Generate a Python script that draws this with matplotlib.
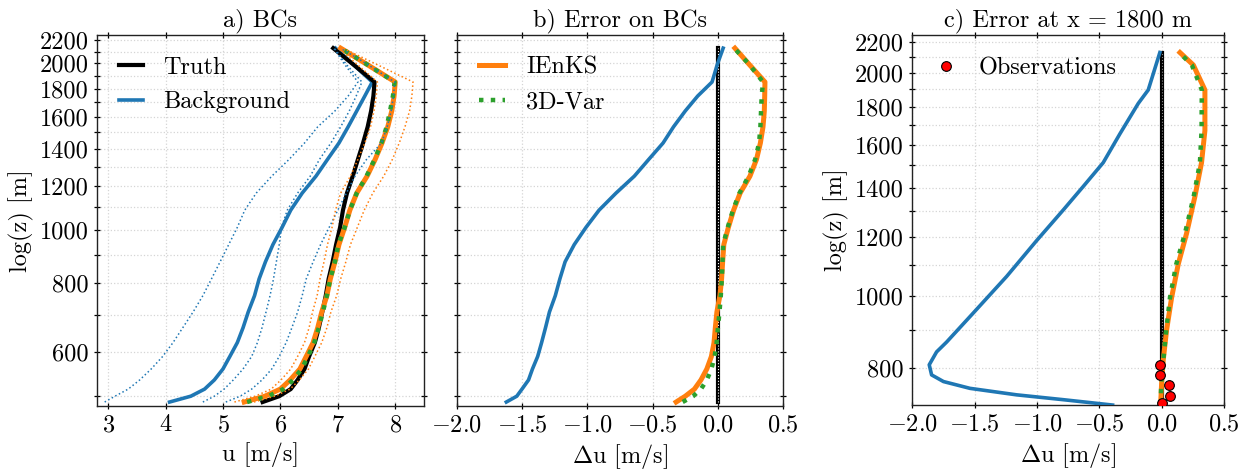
import matplotlib
matplotlib.use('Agg')
import matplotlib.pyplot as plt
from matplotlib.ticker import MultipleLocator, NullFormatter, FormatStrFormatter

# vertical levels for panels a) and b)
z = [488, 500, 515, 535, 560, 590, 625, 665, 710, 760, 815, 875, 940, 1010,
     1085, 1165, 1250, 1340, 1435, 1535, 1640, 1745, 1850, 1990, 2130]

# a) BCs: wind profiles u [m/s]
truth = [5.69, 5.98, 6.18, 6.30, 6.42, 6.50, 6.60, 6.67, 6.73, 6.79, 6.84, 6.91,
         6.97, 7.04, 7.09, 7.16, 7.26, 7.35, 7.44, 7.52, 7.58, 7.62, 7.64, 7.27, 6.92]
background = [4.07, 4.44, 4.68, 4.85, 5.00, 5.12, 5.25, 5.35, 5.44, 5.55, 5.63, 5.74,
              5.87, 6.03, 6.18, 6.38, 6.62, 6.82, 7.02, 7.18, 7.33, 7.47, 7.60, 7.27, 6.96]
ienks = [5.37, 5.73, 6.00, 6.17, 6.34, 6.45, 6.57, 6.65, 6.72, 6.81, 6.87, 6.95,
         7.02, 7.12, 7.21, 7.33, 7.51, 7.65, 7.77, 7.87, 7.94, 7.98, 8.00, 7.51, 7.05]
var3d = [5.42, 5.79, 6.05, 6.22, 6.37, 6.48, 6.59, 6.67, 6.74, 6.81, 6.87, 6.95,
         7.01, 7.12, 7.21, 7.33, 7.50, 7.64, 7.76, 7.85, 7.91, 7.96, 7.99, 7.51, 7.05]
# thin dotted spread lines
bg_spread1 = [2.94, 3.12, 3.35, 3.55, 3.75, 3.95, 4.13, 4.30, 4.48, 4.65, 4.80, 4.95,
              5.10, 5.25, 5.38, 5.58, 5.85, 6.15, 6.42, 6.65, 6.95, 7.18, 7.35, 7.12, 6.93]
bg_spread2 = [4.65, 4.85, 5.02, 5.18, 5.35, 5.50, 5.60, 5.68, 5.75, 5.82, 5.88, 5.93,
              5.98, 6.02, 6.12, 6.30, 6.52, 6.68, 6.88, 7.05, 7.20, 7.32, 7.42, 7.15, 6.94]
bg_spread3 = [5.05, 5.30, 5.50, 5.68, 5.85, 5.98, 6.10, 6.20, 6.30, 6.38, 6.45, 6.57,
              6.70, 6.85, 7.00, 7.15, 7.30, 7.50, 7.76, 7.86, 7.93, 7.97, 7.99, 7.52, 7.05]
an_spread_lo = [5.20, 5.56, 5.84, 6.01, 6.18, 6.30, 6.42, 6.50, 6.56, 6.64, 6.69, 6.76,
                6.82, 6.90, 6.96, 7.05, 7.22, 7.35, 7.47, 7.57, 7.63, 7.67, 7.69, 7.34, 7.01]
an_spread_hi = [5.54, 5.90, 6.17, 6.33, 6.49, 6.60, 6.72, 6.81, 6.88, 6.98, 7.05, 7.14,
                7.22, 7.34, 7.46, 7.61, 7.80, 7.95, 8.07, 8.17, 8.25, 8.29, 8.31, 7.68, 7.09]

# b) Error on BCs
err_zero = [0.0] * len(z)
err_bg = [-1.62, -1.54, -1.50, -1.45, -1.42, -1.38, -1.35, -1.32, -1.29, -1.245, -1.21, -1.17,
          -1.10, -1.01, -0.91, -0.78, -0.64, -0.53, -0.42, -0.34, -0.25, -0.155, -0.045, -0.005, 0.04]
err_ienks = [-0.32, -0.25, -0.18, -0.13, -0.085, -0.05, -0.03, -0.02, -0.008, 0.015, 0.028, 0.036,
             0.045, 0.08, 0.12, 0.17, 0.245, 0.295, 0.325, 0.345, 0.355, 0.358, 0.36, 0.24, 0.13]
err_3dvar = [-0.27, -0.19, -0.13, -0.085, -0.05, -0.025, -0.01, 0.0, 0.012, 0.022, 0.03, 0.035,
             0.04, 0.075, 0.115, 0.165, 0.235, 0.285, 0.315, 0.325, 0.33, 0.335, 0.345, 0.24, 0.125]

# c) Error at x = 1800 m
zc_bg = [712, 724, 735, 750, 766, 782, 807, 840, 866, 948, 1062, 1187, 1306, 1405,
         1513, 1655, 1819, 1897, 2131]
errc_bg = [-0.395, -0.79, -1.164, -1.538, -1.75, -1.845, -1.864, -1.805, -1.725, -1.511,
           -1.244, -1.004, -0.79, -0.63, -0.47, -0.336, -0.189, -0.109, -0.016]
zc_an = [712, 761, 819, 899, 994, 1103, 1214, 1362, 1513, 1672, 1897, 2050, 2131]
errc_ienks = [-0.01, -0.002, 0.011, 0.038, 0.078, 0.131, 0.198, 0.265, 0.318, 0.345, 0.345, 0.252, 0.145]
errc_3dvar = [-0.01, -0.005, 0.012, 0.035, 0.065, 0.115, 0.185, 0.255, 0.305, 0.318, 0.32, 0.24, 0.14]
zc_truth = [712, 2131]
errc_truth = [0.0, 0.0]
obs_z = [807, 782, 758, 733, 717]
obs_err = [-0.015, -0.015, 0.059, 0.065, -0.002]

plt.rcParams['font.family'] = 'cmr10'
plt.rcParams['mathtext.fontset'] = 'cm'
plt.rcParams['axes.formatter.use_mathtext'] = True
plt.rcParams['font.size'] = 17.5

fig = plt.figure(figsize=(12.55, 4.71), dpi=100)
ax1 = fig.add_axes([0.0770, 0.138, 0.2608, 0.7877])
ax2 = fig.add_axes([0.3639, 0.138, 0.2602, 0.7877], sharey=ax1)
ax3 = fig.add_axes([0.7269, 0.140, 0.2486, 0.7856])

blue, orange, green = '#1f77b4', '#ff7f0e', '#2ca02c'

# panel a
ax1.plot(background, z, color=blue, lw=2.6, label='Background', zorder=3)
ax1.plot(truth, z, color='k', lw=3, label='Truth', zorder=4)
ax1.plot(ienks, z, color=orange, lw=3.6, zorder=5)
ax1.plot(var3d, z, color=green, lw=3.2, ls=':', zorder=6)
for s in (bg_spread1, bg_spread2, bg_spread3):
    ax1.plot(s, z, color=blue, lw=1.1, ls=':', zorder=7)
for s in (an_spread_lo, an_spread_hi):
    ax1.plot(s, z, color=orange, lw=1.1, ls=':', zorder=7)
h, l = ax1.get_legend_handles_labels()
ax1.legend(h[::-1], l[::-1], loc='upper left', frameon=False,
           handlelength=1.0, handletextpad=0.85)
ax1.set_xlim(2.8, 8.5)
ax1.set_xlabel('u [m/s]')
ax1.set_ylabel('log(z) [m]')
ax1.set_title('a) BCs', fontsize=17.5)

# panel b
ax2.plot(err_zero, z, color='k', lw=3, zorder=3)
ax2.plot(err_zero, z, color='w', lw=0.8, ls=':', zorder=3.5)
ax2.plot(err_bg, z, color=blue, lw=2.6, zorder=4)
ax2.plot(err_ienks, z, color=orange, lw=3.6, label='IEnKS', zorder=5)
ax2.plot(err_3dvar, z, color=green, lw=3.2, ls=':', label='3D-Var', zorder=6)
ax2.legend(loc='upper left', frameon=False, handlelength=1.1, handletextpad=0.85)
ax2.set_xlim(-2.0, 0.5)
ax2.set_xlabel(r'$\Delta$u [m/s]')
ax2.set_title('b) Error on BCs', fontsize=17.5)

# panel c
ax3.plot(errc_truth, zc_truth, color='k', lw=3, zorder=3)
ax3.plot(errc_truth, zc_truth, color='#888888', lw=0.8, ls=':', zorder=3.5)
ax3.plot(errc_bg, zc_bg, color=blue, lw=2.6, zorder=4)
ax3.plot(errc_ienks, zc_an, color=orange, lw=3.6, zorder=5)
ax3.plot(errc_3dvar, zc_an, color=green, lw=3.2, ls=':', zorder=6)
ax3.plot(obs_err, obs_z, 'o', color='red', mec='k', mew=0.8, ms=7,
         label='Observations', zorder=8)
ax3.legend(loc='upper left', frameon=False, handlelength=1.0, handletextpad=0.85)
ax3.set_xlim(-2.0, 0.5)
ax3.set_xlabel(r'$\Delta$u [m/s]')
ax3.set_ylabel('log(z) [m]')
ax3.set_title('c) Error at x = 1800 m', fontsize=17.5)

for ax in (ax1, ax3):
    ax.set_yscale('log')
ax1.set_ylim(480, 2250)
ax3.set_ylim(712, 2250)

for ax in (ax1, ax2, ax3):
    ax.yaxis.set_major_locator(MultipleLocator(200))
    ax.yaxis.set_minor_locator(MultipleLocator(100))
    ax.yaxis.set_major_formatter(FormatStrFormatter('%d'))
    ax.yaxis.set_minor_formatter(NullFormatter())
    ax.xaxis.set_major_locator(MultipleLocator(1.0 if ax is ax1 else 0.5))
    ax.grid(True, which='major', ls=':', color='#d5d5d5', lw=0.9)
    ax.grid(True, which='minor', axis='y', ls=':', color='#d5d5d5', lw=0.9)
    ax.set_axisbelow(True)
    ax.tick_params(which='both', direction='inout', top=True, right=True,
                   length=5, width=0.9)
    for sp in ax.spines.values():
        sp.set_linewidth(1.0)
        sp.set_color('#222222')
ax2.tick_params(labelleft=False)

fig.savefig('out.png', dpi=100)
